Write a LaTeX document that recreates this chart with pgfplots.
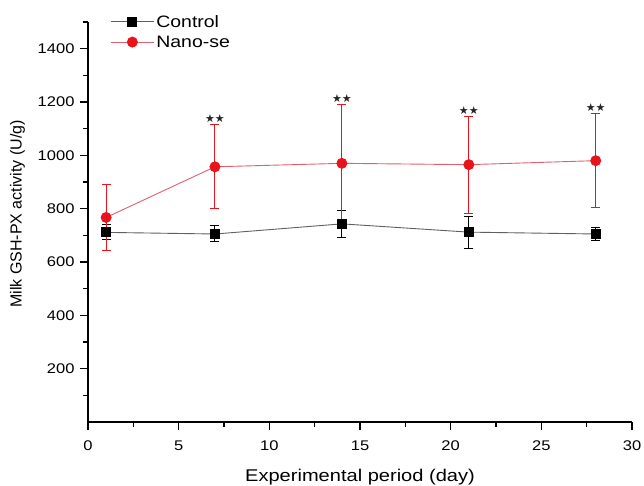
\documentclass[border=0pt]{standalone}
\usepackage{pgfplots}
\pgfplotsset{compat=1.18}
\usepackage{fontspec}
\setmainfont{Liberation Sans}
\newfontfamily\wide{Liberation Sans}[FakeStretch=1.18]
\newfontfamily\symfont{DejaVu Sans}
\definecolor{ctrlLine}{HTML}{606060}
\definecolor{nanoCol}{HTML}{E8141B}
\definecolor{nanoLine}{HTML}{E06070}

\begin{document}
\begin{tikzpicture}
\begin{axis}[
  scale only axis,
  width=544pt, height=400pt,
  xmin=0, xmax=30, ymin=0, ymax=1500,
  axis x line*=bottom, axis y line*=left,
  axis line style={line width=1.4pt},
  xtick={0,5,...,30}, minor x tick num=1,
  ytick={200,400,...,1400}, minor ytick={100,300,...,1500},
  tick align=outside,
  major tick length=8pt, minor tick length=5pt,
  tick style={line width=1.2pt, black},
  ticklabel style={font=\wide\fontsize{14}{16}\selectfont},
  /pgf/number format/assume math mode=true,
  /pgf/number format/1000 sep={},
  xticklabel style={yshift=-7pt},
  yticklabel style={xshift=-2pt},
  xlabel={\wide Experimental period (day)},
  ylabel={Milk GSH-PX activity (U/g)},
  xlabel style={font=\fontsize{17}{18}\selectfont, yshift=-12pt},
  ylabel style={font=\fontsize{16}{18}\selectfont, at={(ticklabel cs:0.52)}, yshift=6pt},
  legend style={draw=none, fill=none, at={(0.039,1.025)}, anchor=north west,
    font=\wide\fontsize{16.5}{18}\selectfont, row sep=3pt, inner sep=1pt},
  legend cell align=left,
  legend image code/.code={
    \draw[#1] (-6pt,0pt) -- (37pt,0pt);
    \draw[#1, mark repeat=2, mark phase=2] plot coordinates {(-6pt,0pt) (15.5pt,0pt) (37pt,0pt)};
  },
  clip=false,
]
\coordinate (O) at (rel axis cs:0,0);
\addplot[color=ctrlLine, line width=0.9pt, mark=square*,
  mark options={solid, fill=black, draw=black, mark size=4.5pt},
  error bars/.cd, y dir=both, y explicit,
  error bar style={black, line width=1pt},
  error mark options={rotate=90, mark size=4.5pt, black, line width=1pt}]
  coordinates {
    (1,711)  +- (0,28)
    (7,705)  +- (0,30)
    (14,743) +- (0,50)
    (21,712) +- (0,60)
    (28,705) +- (0,25)
  };
\addlegendentry{Control}
\addplot[color=nanoLine, line width=0.9pt, mark=*,
  mark options={solid, fill=nanoCol, draw=nanoCol, mark size=5pt},
  error bars/.cd, y dir=both, y explicit,
  error bar style={nanoCol, line width=1pt},
  error mark options={rotate=90, mark size=4.5pt, nanoCol, line width=1pt}]
  coordinates {
    (1,767)  +- (0,124)
    (7,957)  +- (0,157)
    (14,970) +- (0,222)
    (21,965) +- (0,182)
    (28,980) +- (0,177)
  };
\addlegendentry{Nano-se}
\addplot[draw=none, mark=none, forget plot,
  nodes near coords={\symfont\fontsize{11}{11}\selectfont ★★},
  nodes near coords align={above}, every node near coord/.append style={yshift=-1.5pt, text=black!85}]
  coordinates {(7,1114) (14,1192) (21,1147) (28,1157)};
\end{axis}
\pgfresetboundingbox
\path (O) ++(-88pt,-64pt) rectangle ++(644pt,486pt);
\end{tikzpicture}
\end{document}
